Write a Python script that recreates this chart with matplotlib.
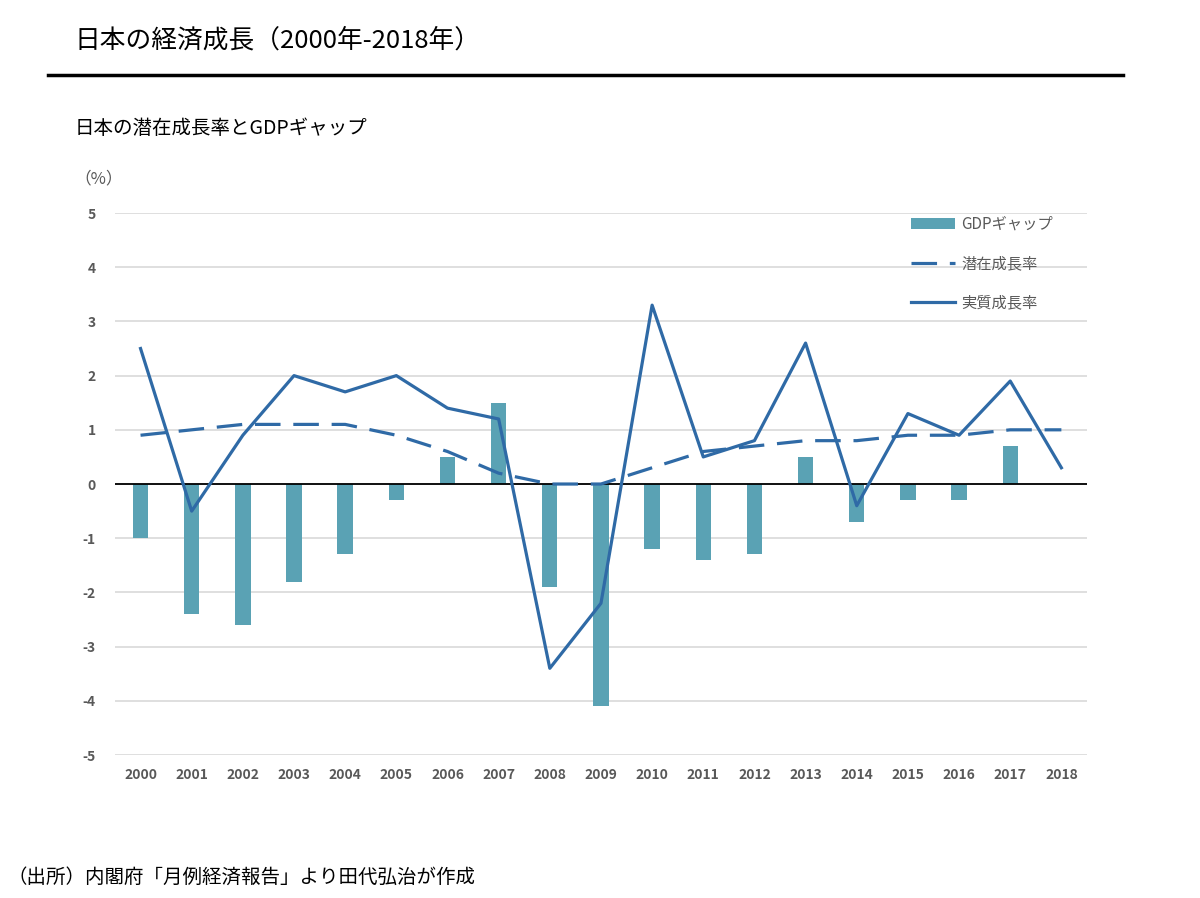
import matplotlib
matplotlib.use("Agg")
import matplotlib.pyplot as plt
import numpy as np

plt.rcParams['font.family'] = ['Noto Sans CJK JP', 'DejaVu Sans']
plt.rcParams['axes.unicode_minus'] = False

# data (%)
years = [str(y) for y in range(2000, 2019)]
gdp_gap = [-1.0, -2.4, -2.6, -1.8, -1.3, -0.3, 0.5, 1.5, -1.9, -4.1,
           -1.2, -1.4, -1.3, 0.5, -0.7, -0.3, -0.3, 0.7, 0.0]
potential = [0.9, 1.0, 1.1, 1.1, 1.1, 0.9, 0.6, 0.2, 0.0, 0.0,
             0.3, 0.6, 0.7, 0.8, 0.8, 0.9, 0.9, 1.0, 1.0]
real_growth = [2.5, -0.5, 0.9, 2.0, 1.7, 2.0, 1.4, 1.2, -3.4, -2.2,
               3.3, 0.5, 0.8, 2.6, -0.4, 1.3, 0.9, 1.9, 0.3]
y_ticks = [5, 4, 3, 2, 1, 0, -1, -2, -3, -4, -5]

bar_color = "#5AA2B4"
line_color = "#2F6AA6"
text_grey = "#595959"

fig = plt.figure(figsize=(12, 8.98), dpi=100)
ax = fig.add_axes([0.0958, 0.1592, 0.810, 0.6036])

x = np.arange(len(years))
bars = ax.bar(x, gdp_gap, width=0.3, color=bar_color, zorder=2, label="GDPギャップ")
pot_line, = ax.plot(x, potential, color=line_color, lw=2.3, dashes=(8, 4),
                    zorder=3, label="潜在成長率")
real_line, = ax.plot(x, real_growth, color=line_color, lw=2.3, zorder=4,
                     label="実質成長率")
ax.axhline(0, color="black", lw=1.3, zorder=2.5)

ax.set_xlim(-0.5, len(years) - 0.5)
ax.set_ylim(-5, 5)
ax.set_yticks(y_ticks)
ax.set_xticks(x)
ax.set_xticklabels(years)
ax.grid(axis="y", color="#D9D9D9", lw=1.2, zorder=0)
ax.tick_params(length=0, labelsize=10, labelcolor=text_grey)
ax.tick_params(axis="y", pad=14)
ax.tick_params(axis="x", pad=9)
for lbl in ax.get_xticklabels() + ax.get_yticklabels():
    lbl.set_fontweight("bold")
for s in ax.spines.values():
    s.set_visible(False)

leg = ax.legend(handles=[bars, pot_line, real_line], loc="upper left",
                bbox_to_anchor=(0.805, 1.02), frameon=False,
                fontsize=11, handlelength=2.9, handletextpad=0.4,
                labelspacing=1.45)
for t in leg.get_texts():
    t.set_color(text_grey)

# titles and notes
fig.text(0.062, 0.955, "日本の経済成長（2000年-2018年）", fontsize=18.5,
         va="center", ha="left")
fig.add_artist(plt.Line2D([0.04, 0.936], [0.916, 0.916], color="black", lw=2.5))
fig.text(0.062, 0.857, "日本の潜在成長率とGDPギャップ", fontsize=14,
         va="center", ha="left")
fig.text(0.062, 0.801, "（%）", fontsize=12, va="center", ha="left",
         color=text_grey)
fig.text(0.006, 0.023, "（出所）内閣府「月例経済報告」より田代弘治が作成",
         fontsize=14, va="center", ha="left")

fig.savefig("out.png", dpi=100)
